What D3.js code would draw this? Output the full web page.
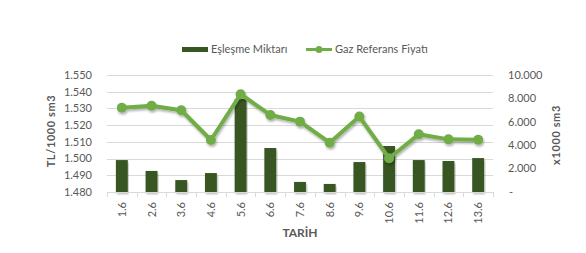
<!DOCTYPE html>
<html>
<head>
<meta charset="utf-8">
<script src="https://cdn.jsdelivr.net/npm/d3@7"></script>
<style>
  body { margin: 0; background: #fff; }
  text { font-family: Lato, "Open Sans", sans-serif; }
</style>
</head>
<body>
<div class="container"></div>
<script>
const dates = ["1.6", "2.6", "3.6", "4.6", "5.6", "6.6", "7.6", "8.6", "9.6", "10.6", "11.6", "12.6", "13.6"]
const amounts = [2730, 1800, 1020, 1620, 7950, 3760, 860, 690, 2560, 3930, 2730, 2650, 2900]
const prices = [1530.4, 1531.6, 1528.9, 1511.1, 1538.5, 1526.1, 1522.1, 1509.5, 1525.1, 1500.2, 1514.5, 1511.5, 1511.3]
const leftTicks = [1480, 1490, 1500, 1510, 1520, 1530, 1540, 1550]
const rightTicks = [0, 2000, 4000, 6000, 8000, 10000]

const width = 586
const height = 253
const margin = { top: 75, bottom: 61, left: 107, right: 93 }

const tr = d3.formatLocale({ decimal: ",", thousands: ".", grouping: [3], currency: ["", " TL"] })
const fmt = tr.format(",.0f")

const svg = d3.select(".container")
    .append("svg")
    .attr("width", width)
    .attr("height", height)
    .attr("viewBox", [0, 0, width, height])

const defs = svg.append("defs")
defs.append("filter")
    .attr("id", "shadow")
    .attr("x", "-10%").attr("y", "-20%").attr("width", "120%").attr("height", "150%")
    .append("feDropShadow")
    .attr("dx", 1).attr("dy", 2).attr("stdDeviation", 1.2)
    .attr("flood-color", "#000").attr("flood-opacity", 0.3)

const x = d3.scaleBand()
    .domain(dates)
    .range([margin.left, width - margin.right])
    .paddingInner(0.6)
    .paddingOuter(0.3)

const xOuter = d3.scaleBand()
    .domain(dates)
    .range([margin.left, width - margin.right])

const yLeft = d3.scaleLinear()
    .domain([1480, 1550])
    .range([height - margin.bottom, margin.top])

const yRight = d3.scaleLinear()
    .domain([0, 10000])
    .range([height - margin.bottom, margin.top])

// gridlines
svg.append("g")
    .selectAll("line")
    .data(leftTicks.slice(1))
    .enter()
    .append("line")
    .attr("x1", margin.left)
    .attr("x2", width - margin.right)
    .attr("y1", d => Math.round(yLeft(d)) + 0.5)
    .attr("y2", d => Math.round(yLeft(d)) + 0.5)
    .attr("stroke", "#d9d9d9")
    .attr("stroke-width", 1)

// left axis labels
svg.append("g")
    .selectAll("text")
    .data(leftTicks)
    .enter()
    .append("text")
    .attr("x", 92)
    .attr("y", d => yLeft(d))
    .attr("dy", "0.35em")
    .attr("text-anchor", "end")
    .attr("font-size", 11)
    .attr("fill", "#595959")
    .text(d => fmt(d))

// right axis labels
svg.append("g")
    .selectAll("text")
    .data(rightTicks)
    .enter()
    .append("text")
    .attr("x", d => d === 0 ? 509 : 508)
    .attr("y", d => yRight(d))
    .attr("dy", "0.35em")
    .attr("text-anchor", "start")
    .attr("font-size", 11)
    .attr("fill", "#595959")
    .text(d => d === 0 ? "-" : fmt(d))

// bars
svg.append("g")
    .selectAll("rect")
    .data(amounts)
    .enter()
    .append("rect")
    .attr("x", (d, i) => x(dates[i]))
    .attr("width", x.bandwidth())
    .attr("y", d => yRight(d))
    .attr("height", d => yRight(0) - yRight(d))
    .attr("fill", "#375623")
    .attr("filter", "url(#shadow)")

// x axis
const xAxis = svg.append("g")
xAxis.append("line")
    .attr("x1", margin.left)
    .attr("x2", width - margin.right)
    .attr("y1", height - margin.bottom + 0.5)
    .attr("y2", height - margin.bottom + 0.5)
    .attr("stroke", "#d9d9d9")
xAxis.selectAll(".tick")
    .data(dates.concat(["end"]))
    .enter()
    .append("line")
    .attr("x1", (d, i) => Math.round(margin.left + i * xOuter.step()) + 0.5)
    .attr("x2", (d, i) => Math.round(margin.left + i * xOuter.step()) + 0.5)
    .attr("y1", height - margin.bottom)
    .attr("y2", height - margin.bottom + 5)
    .attr("stroke", "#d9d9d9")
xAxis.selectAll(".lbl")
    .data(dates)
    .enter()
    .append("text")
    .attr("transform", d => `translate(${xOuter(d) + xOuter.bandwidth() / 2 + 4}, 202) rotate(-90)`)
    .attr("text-anchor", "end")
    .attr("font-size", 11)
    .attr("fill", "#595959")
    .text(d => d)

// line
const line = d3.line()
    .x((d, i) => xOuter(dates[i]) + xOuter.bandwidth() / 2)
    .y(d => yLeft(d))

const lineG = svg.append("g").attr("filter", "url(#shadow)")
lineG.append("path")
    .datum(prices)
    .attr("d", line)
    .attr("fill", "none")
    .attr("stroke", "#70ad47")
    .attr("stroke-width", 4)
    .attr("stroke-linejoin", "round")
lineG.selectAll("circle")
    .data(prices)
    .enter()
    .append("circle")
    .attr("cx", (d, i) => xOuter(dates[i]) + xOuter.bandwidth() / 2)
    .attr("cy", d => yLeft(d))
    .attr("r", 5)
    .attr("fill", "#70ad47")

// axis titles
svg.append("text")
    .attr("transform", `translate(55, 131) rotate(-90)`)
    .attr("text-anchor", "middle")
    .attr("font-size", 11)
    .attr("font-weight", "bold")
    .attr("letter-spacing", 0.6)
    .attr("fill", "#595959")
    .text("TL/1000 sm3")

svg.append("text")
    .attr("transform", `translate(560, 135) rotate(-90)`)
    .attr("text-anchor", "middle")
    .attr("font-size", 11)
    .attr("font-weight", "bold")
    .attr("letter-spacing", 0.6)
    .attr("fill", "#595959")
    .text("x1000 sm3")

svg.append("text")
    .attr("x", 300)
    .attr("y", 237)
    .attr("text-anchor", "middle")
    .attr("font-size", 12)
    .attr("font-weight", "bold")
    .attr("fill", "#595959")
    .text("TARİH")

// legend
const legend = svg.append("g").attr("id", "legend")
legend.append("rect")
    .attr("x", 182)
    .attr("y", 47)
    .attr("width", 26)
    .attr("height", 5)
    .attr("fill", "#375623")
legend.append("text")
    .attr("x", 211)
    .attr("y", 53)
    .attr("font-size", 11)
    .attr("fill", "#595959")
    .text("Eşleşme Miktarı")
legend.append("line")
    .attr("x1", 306)
    .attr("x2", 332)
    .attr("y1", 49.5)
    .attr("y2", 49.5)
    .attr("stroke", "#70ad47")
    .attr("stroke-width", 3)
legend.append("circle")
    .attr("cx", 319)
    .attr("cy", 49.5)
    .attr("r", 3.5)
    .attr("fill", "#70ad47")
legend.append("text")
    .attr("x", 335)
    .attr("y", 53)
    .attr("font-size", 11)
    .attr("fill", "#595959")
    .text("Gaz Referans Fiyatı")
</script>
</body>
</html>
